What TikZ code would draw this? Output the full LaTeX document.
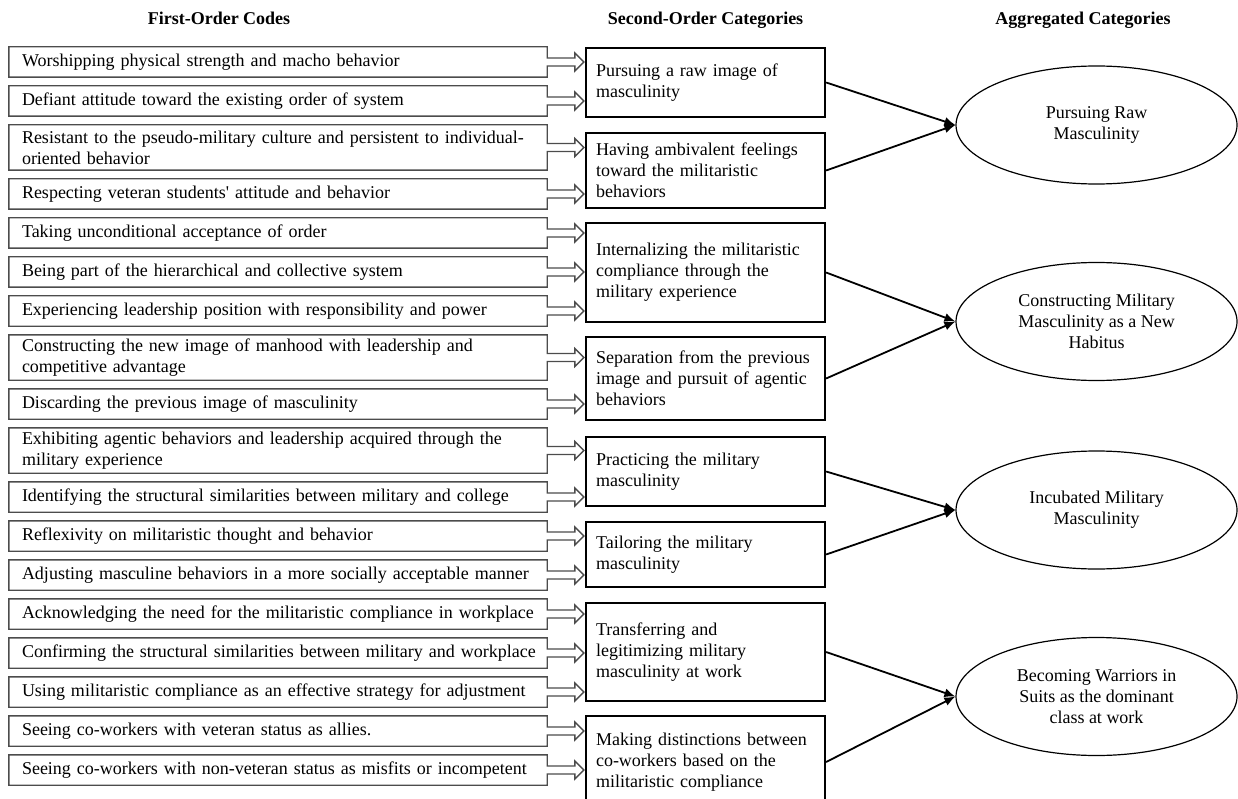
\documentclass[tikz,border=0pt]{standalone}
\usepackage{fontspec}
\setmainfont{Liberation Serif}
\usepackage{tikz}
\usetikzlibrary{positioning}
\usetikzlibrary{shapes.geometric}
\usetikzlibrary{arrows.meta}
\tikzset{every node/.style={font=\fontsize{18pt}{21pt}\selectfont},
	head node/.style={font=\fontsize{18pt}{21pt}\selectfont\bfseries,anchor=base},
	code node/.style={text width=521pt,align=left,inner xsep=13pt,inner ysep=2pt,minimum height=30pt},
	cat node/.style={draw,line width=2.2pt,text width=219pt,align=left,inner xsep=10pt,inner ysep=2pt},
	agg node/.style={ellipse,draw,line width=1.2pt,minimum width=281pt,minimum height=118pt,inner sep=0pt,align=center},
	code line/.style={draw=black!70,line width=1.4pt,line join=miter},
	link/.style={line width=1.8pt,-{Latex[length=11pt,width=9pt]}},}

\begin{document}
\begin{tikzpicture}[x=1pt,y=-1pt]
	\useasboundingbox (0,0) rectangle (1238,799);

	\node[head node] (h1) at (219,25) {First-Order Codes};
	\node[head node] (h2) at (705.5,25) {Second-Order Categories};
	\node[head node] (h3) at (1083,25) {Aggregated Categories};

	\node[code node] (c1) at (282.5,62) {Worshipping physical strength and macho behavior};
	\node[code node] (c2) [below=8.6pt of c1] {Defiant attitude toward the existing order of system};
	\node[code node,minimum height=45pt] (c3) [below=8.6pt of c2] {Resistant to the pseudo-military culture and persistent to individual-\\oriented behavior};
	\node[code node] (c4) [below=8.6pt of c3] {Respecting veteran students\textquotesingle{} attitude and behavior};
	\node[code node] (c5) [below=8.6pt of c4] {Taking unconditional acceptance of order};
	\node[code node] (c6) [below=8.6pt of c5] {Being part of the hierarchical and collective system};
	\node[code node] (c7) [below=8.6pt of c6] {Experiencing leadership position with responsibility and power};
	\node[code node,minimum height=45pt] (c8) [below=8.6pt of c7] {Constructing the new image of manhood with leadership and\\competitive advantage};
	\node[code node] (c9) [below=8.6pt of c8] {Discarding the previous image of masculinity};
	\node[code node,minimum height=45pt] (c10) [below=8.6pt of c9] {Exhibiting agentic behaviors and leadership acquired through the\\military experience};
	\node[code node] (c11) [below=8.6pt of c10] {Identifying the structural similarities between military and college};
	\node[code node] (c12) [below=8.6pt of c11] {Reflexivity on militaristic thought and behavior};
	\node[code node] (c13) [below=8.6pt of c12] {Adjusting masculine behaviors in a more socially acceptable manner};
	\node[code node] (c14) [below=8.6pt of c13] {Acknowledging the need for the militaristic compliance in workplace};
	\node[code node] (c15) [below=8.6pt of c14] {Confirming the structural similarities between military and workplace};
	\node[code node] (c16) [below=8.6pt of c15] {Using militaristic compliance as an effective strategy for adjustment};
	\node[code node] (c17) [below=8.6pt of c16] {Seeing co-workers with veteran status as allies.};
	\node[code node] (c18) [below=8.6pt of c17] {Seeing co-workers with non-veteran status as misfits or incompetent};

	\node[cat node,minimum height=69pt] (s1) at (705.5,82.5) {Pursuing a raw image of\\masculinity};
	\node[cat node,minimum height=75pt] (s2) at (705.5,170.5) {Having ambivalent feelings\\toward the militaristic\\behaviors};
	\node[cat node,minimum height=99pt] (s3) at (705.5,272.5) {Internalizing the militaristic\\compliance through the\\military experience};
	\node[cat node,minimum height=83pt] (s4) at (705.5,378.5) {Separation from the previous\\image and pursuit of agentic\\behaviors};
	\node[cat node,minimum height=69pt] (s5) at (705.5,471.5) {Practicing the military\\masculinity};
	\node[cat node,minimum height=65pt] (s6) at (705.5,554.5) {Tailoring the military\\masculinity};
	\node[cat node,minimum height=98pt] (s7) at (705.5,652) {Transferring and\\legitimizing military\\masculinity at work};
	\node[cat node,minimum height=92pt] (s8) at (705.5,762) {Making distinctions between\\co-workers based on the\\militaristic compliance};

	\node[agg node] (a1) at (1096.5,125) {Pursuing Raw\\Masculinity};
	\node[agg node] (a2) at (1096.5,321.5) {Constructing Military\\Masculinity as a New\\Habitus};
	\node[agg node] (a3) at (1096.5,510) {Incubated Military\\Masculinity};
	\node[agg node] (a4) at (1096.5,696.5) {Becoming Warriors in\\Suits as the dominant\\class at work};

	% code boxes with their hollow arrows
	\foreach \c/\s in {c1/s1,c2/s1,c3/s2,c4/s2,c5/s3,c6/s3,c7/s3,c8/s4,c9/s4,c10/s5,c11/s5,c12/s6,c13/s6,c14/s7,c15/s7,c16/s7,c17/s8,c18/s8}{
		\coordinate (e) at ([xshift=-9pt]\c.east);
		\coordinate (tip) at (\s.west |- \c.east);
		\draw[code line] (\c.north west) -- ([xshift=-9pt]\c.north east) -- ([yshift=4pt]e)
			-- ([xshift=-10pt,yshift=4pt]tip) -- ([xshift=-10pt,yshift=9pt]tip) -- ([xshift=-1pt]tip)
			-- ([xshift=-10pt,yshift=-9pt]tip) -- ([xshift=-10pt,yshift=-4pt]tip) -- ([yshift=-4pt]e)
			-- ([xshift=-9pt]\c.south east) -- (\c.south west) -- cycle;
	}

	\path[link]
	(s1.east) edge (a1.west)
	(s2.east) edge (a1.west)
	(s3.east) edge (a2.west)
	(s4.east) edge (a2.west)
	(s5.east) edge (a3.west)
	(s6.east) edge (a3.west)
	(s7.east) edge (a4.west)
	(s8.east) edge (a4.west)
	;
\end{tikzpicture}
\end{document}
